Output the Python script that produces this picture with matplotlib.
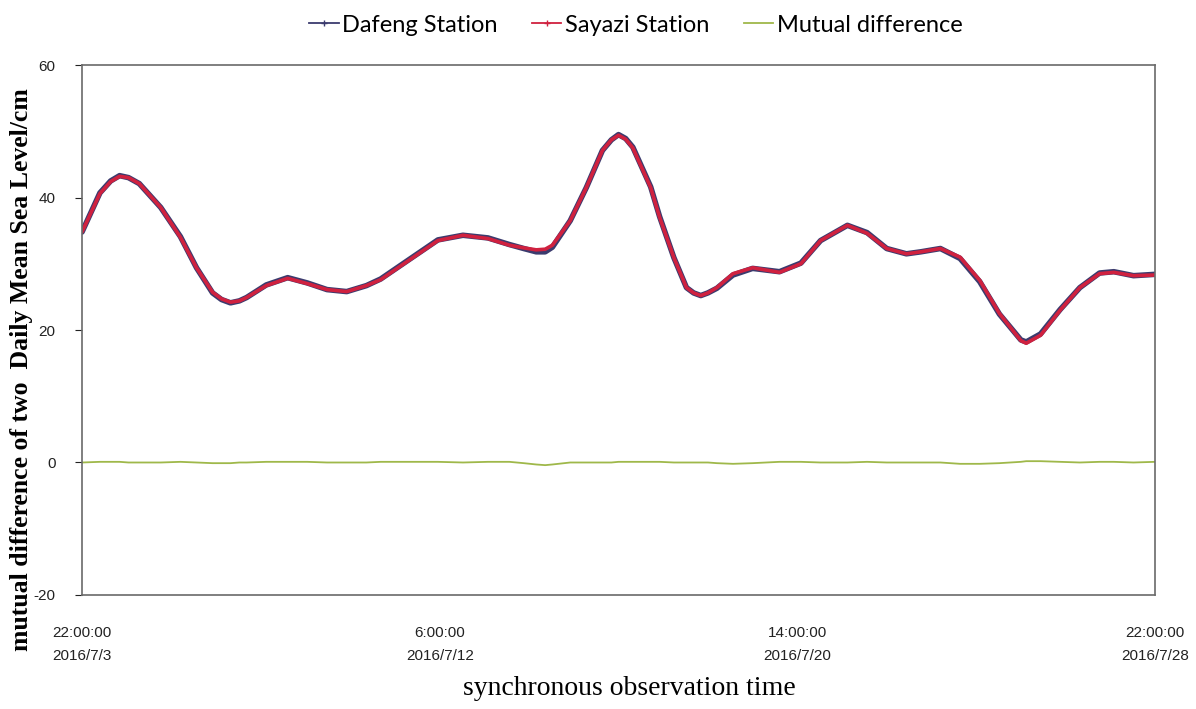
import matplotlib
matplotlib.use("Agg")
import matplotlib.pyplot as plt
from matplotlib.lines import Line2D

# hours since 2016/7/3 22:00:00
hours = [0, 10, 16, 21, 26, 32, 44, 55, 64, 73, 78, 83, 88, 92, 103,
         115, 126, 137, 148, 159, 167, 180, 199, 213, 227, 239, 247, 254,
         259, 263, 273, 282, 291, 296, 300, 304, 308, 318, 323, 331, 338,
         342, 346, 350, 355, 364, 375, 390, 402, 413, 428, 439, 450, 461,
         469, 480, 491, 502, 513, 525, 528, 536, 547, 558, 569, 577, 588, 600]
sayazi = [34.8, 40.6, 42.4, 43.2, 43.0, 42.1, 38.5, 34.0, 29.4, 25.7, 24.7, 24.2,
          24.4, 24.9, 26.7, 27.8, 27.0, 26.1, 25.8, 26.7, 27.6, 30.0, 33.5, 34.3,
          33.8, 32.8, 32.4, 32.1, 32.2, 32.8, 36.5, 41.5, 47.1, 48.7, 49.4, 48.8,
          47.5, 41.5, 37.0, 30.9, 26.4, 25.6, 25.2, 25.6, 26.4, 28.5, 29.4, 28.7,
          30.0, 33.5, 35.8, 34.6, 32.3, 31.5, 31.8, 32.3, 31.0, 27.5, 22.5, 18.4,
          18.0, 19.2, 23.0, 26.4, 28.5, 28.7, 28.2, 28.3]
difference = [0.0, 0.1, 0.1, 0.1, 0.0, 0.0, 0.0, 0.1, 0.0, -0.1, -0.1, -0.1,
              0.0, 0.0, 0.1, 0.1, 0.1, 0.0, 0.0, 0.0, 0.1, 0.1, 0.1, 0.0,
              0.1, 0.1, -0.1, -0.3, -0.4, -0.3, 0.0, 0.0, 0.0, 0.0, 0.1, 0.1,
              0.1, 0.1, 0.1, 0.0, 0.0, 0.0, 0.0, 0.0, -0.1, -0.2, -0.1, 0.1,
              0.1, 0.0, 0.0, 0.1, 0.0, 0.0, 0.0, 0.0, -0.2, -0.2, -0.1, 0.1,
              0.2, 0.2, 0.1, 0.0, 0.1, 0.1, 0.0, 0.1]
dafeng = [s + d for s, d in zip(sayazi, difference)]

xtick_hours = [0, 200, 400, 600]
xtick_labels = ["22:00:00\n2016/7/3", "6:00:00\n2016/7/12",
                "14:00:00\n2016/7/20", "22:00:00\n2016/7/28"]
yticks = [-20, 0, 20, 40, 60]

c_dafeng = "#3b3b6e"
c_sayazi = "#d0213f"
c_diff = "#9fb84a"

fig = plt.figure(figsize=(11.96, 7.09), dpi=100)
ax = fig.add_axes([0.0686, 0.1608, 0.8971, 0.7475])

ax.plot(hours, dafeng, color=c_dafeng, lw=4.0, solid_joinstyle="round",
        solid_capstyle="round")
ax.plot(hours, sayazi, color=c_sayazi, lw=2.6, solid_joinstyle="round",
        solid_capstyle="round")
ax.plot(hours, difference, color=c_diff, lw=1.3)

ax.set_xlim(0, 600)
ax.set_ylim(-20, 60)
ax.set_xticks(xtick_hours)
ax.set_xticklabels(xtick_labels, fontsize=11, family="Liberation Sans",
                   linespacing=1.9)
ax.set_yticks(yticks)
ax.set_yticklabels([str(v) for v in yticks], fontsize=11, family="Liberation Sans")
ax.tick_params(axis="x", length=0, pad=22, colors="#222222")
ax.tick_params(axis="y", length=5, direction="out", pad=14, colors="#222222")
for s in ax.spines.values():
    s.set_color("#6a6a6a")
    s.set_linewidth(1.2)

ax.set_ylabel("mutual difference of two  Daily Mean Sea Level/cm",
              family="Liberation Serif", fontsize=18.5, fontweight="bold")
ax.yaxis.set_label_coords(-0.046, 0.425)
ax.set_xlabel("synchronous observation time", family="Liberation Serif",
              fontsize=20)
ax.xaxis.set_label_coords(0.51, -0.153)

handles = [
    Line2D([], [], color=c_dafeng, lw=1.3, marker="+", markersize=5),
    Line2D([], [], color=c_sayazi, lw=1.3, marker="+", markersize=5),
    Line2D([], [], color=c_diff, lw=1.3),
]
labels = ["Dafeng Station", "Sayazi Station", "Mutual difference"]
ax.legend(handles, labels, loc="upper center", bbox_to_anchor=(0.516, 1.135),
          ncol=3, frameon=False, handlelength=1.25, handletextpad=0.15,
          columnspacing=1.45, prop={"family": "Lato", "size": 17})

fig.savefig("out.png", dpi=100, facecolor="white")
